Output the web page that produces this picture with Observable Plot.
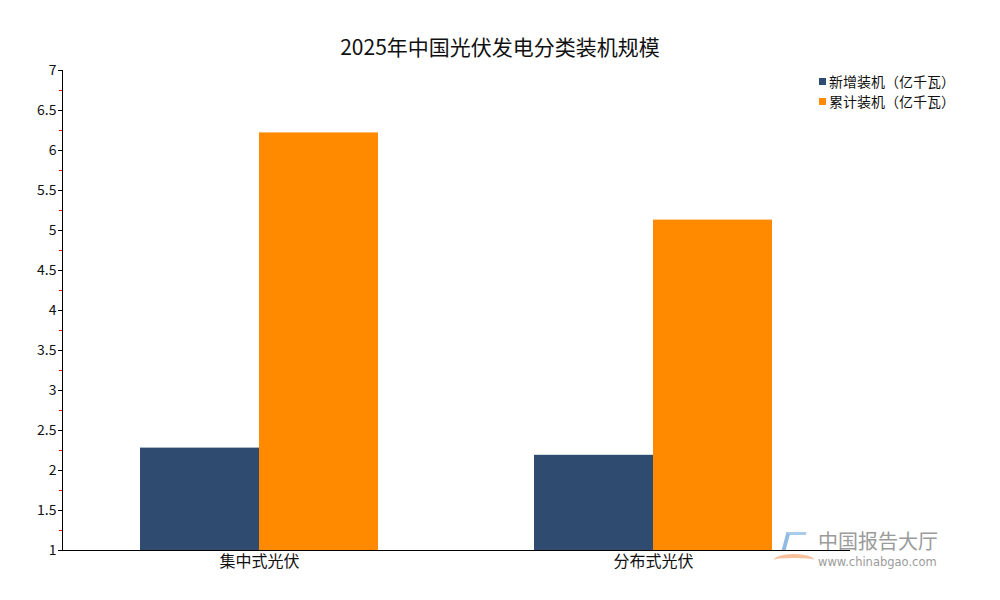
<!DOCTYPE html>
<html>
<head>
<meta charset="utf-8">
<script src="https://cdn.jsdelivr.net/npm/d3@7"></script>
<script src="https://cdn.jsdelivr.net/npm/@observablehq/plot@0.6"></script>
<style>
  html, body { margin: 0; padding: 0; background: #fff; }
  #wrap { position: relative; width: 1000px; height: 600px; font-family: "Noto Sans CJK SC", "Noto Sans", sans-serif; }
  #title { position: absolute; left: 0; width: 1000px; top: 32px; text-align: center; font-size: 21px; line-height: 28px; color: #111; }
  #legend { position: absolute; left: 819px; top: 71px; font-size: 14px; line-height: 20px; color: #111; }
  #legend .item { display: flex; align-items: center; white-space: nowrap; height: 20px; }
  #legend .sw { width: 7px; height: 7px; margin-right: 3px; }
  #wm { position: absolute; left: 774px; top: 526px; color: #8a8a8a; opacity: 0.85; }
  #wm .logo1 { position: absolute; left: 10px; top: 6px; width: 16px; height: 16px; border-left: 4px solid #7fb0dd; border-top: 3px solid #9cc3e6; transform: skewX(-15deg); }
  #wm .logo2 { position: absolute; left: 0px; top: 28px; width: 40px; height: 8px; border-top: 4px solid #f6b48a; border-radius: 50% 50% 0 0; }
  #wm .cn { position: absolute; left: 44px; top: 2px; font-size: 20px; line-height: 26px; white-space: nowrap; }
  #wm .url { position: absolute; left: 44px; top: 29px; font-size: 11.5px; line-height: 14px; white-space: nowrap; font-family: "DejaVu Sans", sans-serif; }
  svg { position: absolute; left: 0; top: 0; }
</style>
</head>
<body>
<div id="wrap">
  <div id="title"></div>
  <div id="legend"></div>
  <div id="wm"><div class="logo1"></div><div class="logo2"></div><span class="cn">中国报告大厅</span><span class="url">www.chinabgao.com</span></div>
</div>
<script>
const titleText = "2025年中国光伏发电分类装机规模";
const categories = ["集中式光伏", "分布式光伏"];
const series = ["新增装机（亿千瓦）", "累计装机（亿千瓦）"];
const newValues = [2.28, 2.19];
const cumValues = [6.22, 5.13];
const colors = ["#2f4b70", "#ff8a00"];
const yMin = 1, yMax = 7;
const majorTicks = d3.range(1, 7.001, 0.5);
const minorTicks = d3.range(1.25, 7, 0.5);

const data = [];
categories.forEach((c, i) => {
  data.push({category: c, series: series[0], value: newValues[i]});
  data.push({category: c, series: series[1], value: cumValues[i]});
});

document.getElementById("title").textContent = titleText;
const leg = document.getElementById("legend");
series.forEach((s, i) => {
  const it = document.createElement("div");
  it.className = "item";
  it.innerHTML = `<span class="sw" style="background:${colors[i]}"></span><span>${s}</span>`;
  leg.appendChild(it);
});

const chart = Plot.plot({
  width: 1000,
  height: 600,
  marginLeft: 61,
  marginRight: 150,
  marginTop: 70,
  marginBottom: 50,
  style: {fontFamily: "'Noto Sans CJK SC', 'Noto Sans', sans-serif", fontSize: "14px", color: "#111", background: "transparent"},
  fx: {domain: categories, padding: 0, axis: null},
  x: {domain: series, paddingInner: 0, paddingOuter: 0.65, axis: null},
  y: {domain: [yMin, yMax], axis: null},
  color: {domain: series, range: colors},
  marks: [
    Plot.barY(data, {fx: "category", x: "series", y1: yMin, y2: "value", fill: "series"}),
    Plot.ruleY([yMin], {stroke: "#000", strokeWidth: 1}),
    Plot.frame({anchor: "left", facetAnchor: "left", stroke: "#000"}),
    Plot.axisY({ticks: majorTicks, tickSize: 4, tickPadding: 2, fontSize: 14, label: null, tickFormat: d => String(d), stroke: "#000"}),
    Plot.axisY({ticks: minorTicks, tickSize: 3, tickFormat: () => "", label: null, stroke: "#ff0000"}),
    Plot.axisFx({anchor: "bottom", tickSize: 0, tickPadding: 5, fontSize: 16, label: null})
  ]
});
document.getElementById("wrap").appendChild(chart);
</script>
</body>
</html>
